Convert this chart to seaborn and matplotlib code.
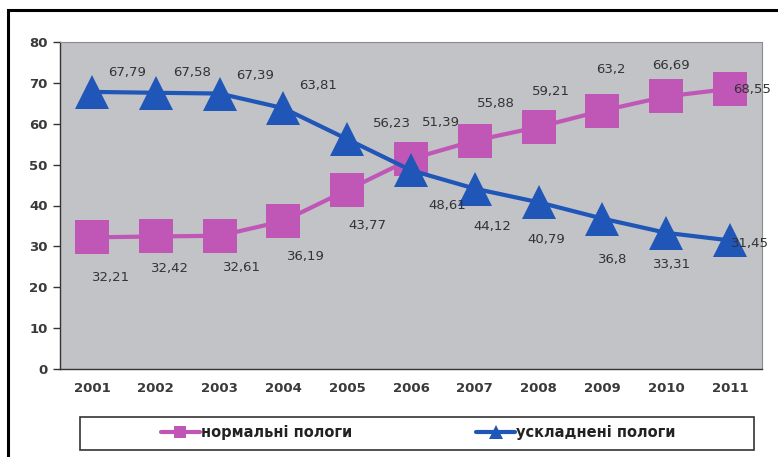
import pandas as pd
import matplotlib.pyplot as plt
import seaborn as sns
from matplotlib.lines import Line2D
from matplotlib.patches import Rectangle

# Data
years = [2001, 2002, 2003, 2004, 2005, 2006, 2007, 2008, 2009, 2010, 2011]
normal = [32.21, 32.42, 32.61, 36.19, 43.77, 51.39, 55.88, 59.21, 63.2, 66.69, 68.55]
complicated = [67.79, 67.58, 67.39, 63.81, 56.23, 48.61, 44.12, 40.79, 36.8, 33.31, 31.45]
name_normal = 'нормальні пологи'
name_compl = 'ускладнені пологи'

# label offsets in pixels (dx, dy, up is positive)
off_normal = [(19, -40), (14, -32), (22, -32), (23, -35), (20, -35), (30, 36),
              (21, 37), (12, 35), (8, 41), (5, 31), (22, -1)]
off_compl = [(35, 19), (36, 20), (36, 18), (35, 23), (45, 16), (36, -35),
             (17, -38), (8, -37), (10, -41), (6, -32), (20, -3)]

pink = '#c057b6'
blue = '#1f56b8'

df = pd.DataFrame({
    'year': years * 2,
    'value': normal + complicated,
    'series': [name_normal] * len(years) + [name_compl] * len(years),
})

sns.set_theme(style='white')
plt.rcParams['font.family'] = ['DejaVu Sans']

fig = plt.figure(figsize=(7.78, 4.57), dpi=100)
ax = fig.add_axes([60 / 778, 1 - 369 / 457, 702 / 778, 327 / 457])
ax.set_facecolor('#c1c3c6')

sns.lineplot(data=df, x='year', y='value', hue='series', style='series',
             hue_order=[name_normal, name_compl],
             palette={name_normal: pink, name_compl: blue},
             markers={name_normal: 's', name_compl: '^'}, dashes=False,
             linewidth=3, markersize=25, markeredgewidth=0, legend=False, ax=ax)

px = 0.72
for vals, offs in [(normal, off_normal), (complicated, off_compl)]:
    for x, v, (dx, dy) in zip(years, vals, offs):
        ax.annotate(f'{v:g}'.replace('.', ','), (x, v), xytext=(dx * px, dy * px),
                    textcoords='offset points', ha='center', va='center',
                    fontsize=9.5, color='#333333')

ax.set_xlim(2000.5, 2011.5)
ax.set_ylim(0, 80)
ax.set_yticks(range(0, 81, 10))
ax.set_xticks(years)
ax.set_xticks([y + 0.5 for y in years[:-1]] + [2000.5, 2011.5], minor=True)
ax.tick_params(axis='x', which='major', length=0, pad=9, labelsize=9.5, labelcolor='#3a3a3a')
ax.tick_params(axis='x', which='minor', length=5, width=1, color='#333333', direction='out')
ax.tick_params(axis='y', length=5, width=1, color='#333333', direction='out', pad=4,
               labelsize=9.5, labelcolor='#3a3a3a', left=True)
for lab in ax.get_xticklabels() + ax.get_yticklabels():
    lab.set_fontweight('bold')
ax.set_xlabel('')
ax.set_ylabel('')
for s in ['left', 'bottom']:
    ax.spines[s].set_color('#333333')
    ax.spines[s].set_linewidth(1)
for s in ['top', 'right']:
    ax.spines[s].set_color('#8a8c8e')
    ax.spines[s].set_linewidth(0.8)

# legend box and entries
fig.add_artist(Rectangle((80 / 778, 1 - 450 / 457), 674 / 778, 33 / 457,
                         transform=fig.transFigure, facecolor='white',
                         edgecolor='#333333', linewidth=1.2))
handles = [Line2D([], [], color=pink, marker='s', markersize=9, linewidth=3, markeredgewidth=0),
           Line2D([], [], color=blue, marker='^', markersize=10, linewidth=3, markeredgewidth=0)]
fig.legend(handles, [name_normal, name_compl], loc='center',
           bbox_to_anchor=(418 / 778, 1 - 433 / 457), ncol=2, frameon=False,
           handlelength=2.7, handletextpad=0.05, columnspacing=8.5,
           prop={'size': 10.5, 'weight': 'bold'}, labelcolor='#222222')

# outer black frame (open at right and bottom)
fig.add_artist(Rectangle((8 / 778, -0.1), 2, 1.1 - 10 / 457, transform=fig.transFigure,
                         facecolor='none', edgecolor='black', linewidth=2.2))

plt.savefig('out.png', dpi=100)
